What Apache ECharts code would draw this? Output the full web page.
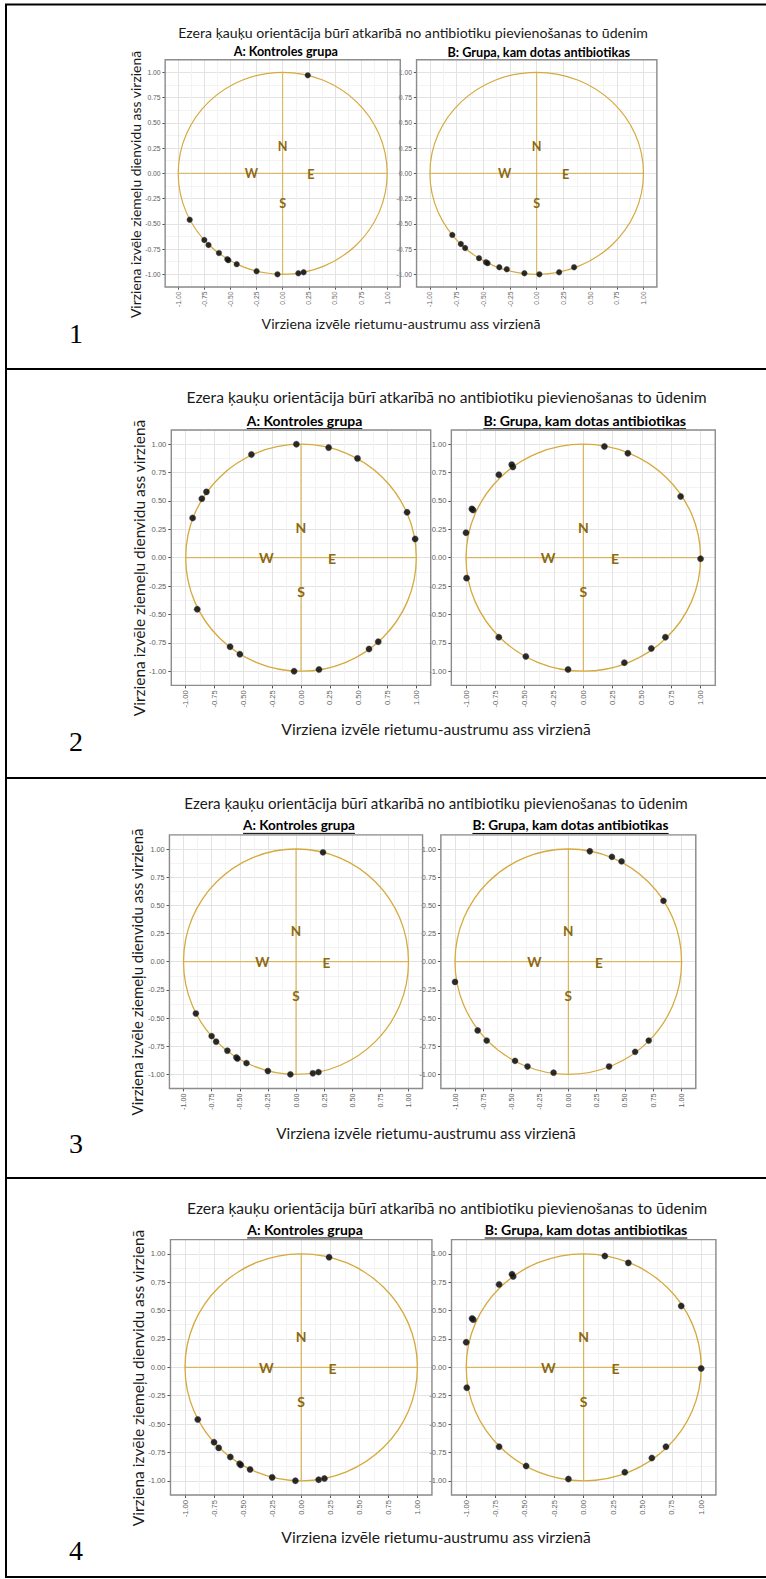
<!DOCTYPE html>
<html><head><meta charset="utf-8">
<script src="https://cdn.jsdelivr.net/npm/echarts@6/dist/echarts.min.js"></script>
<style>html,body{margin:0;padding:0;background:#fff}#c{width:766px;height:1579px}</style>
</head><body><div id="c"></div>
<script>
// ---------------- DATA ----------------
const titleText = 'Ezera ķauķu orientācija būrī atkarībā no antibiotiku pievienošanas to ūdenim';
const panelTitleA = 'A: Kontroles grupa';
const panelTitleB = 'B: Grupa, kam dotas antibiotikas';
const yAxisTitle = 'Virziena izvēle ziemeļu dienvidu ass virzienā';
const xAxisTitle = 'Virziena izvēle rietumu-austrumu ass virzienā';
const rowNumbers = ['1', '2', '3', '4'];
const tickValues = [-1, -0.75, -0.5, -0.25, 0, 0.25, 0.5, 0.75, 1];
const circleRadius = 1;
const compassLabels = ['N', 'S', 'W', 'E'];
const compassX = [0, 0, -0.30, 0.27];
const compassY = [0.27, -0.30, 0, -0.01];

// control group (rows 1, 3, 4)
const controlX = [0.24, -0.89, -0.75, -0.71, -0.61, -0.53, -0.52, -0.44, -0.25, -0.05, 0.15, 0.20];
const controlY = [0.97, -0.46, -0.66, -0.71, -0.79, -0.85, -0.86, -0.90, -0.97, -1.00, -0.99, -0.98];
// antibiotic group, row 1
const treat1X = [-0.79, -0.71, -0.67, -0.54, -0.475, -0.46, -0.35, -0.28, -0.115, 0.025, 0.21, 0.35];
const treat1Y = [-0.61, -0.70, -0.74, -0.84, -0.88, -0.89, -0.93, -0.95, -0.99, -1.00, -0.98, -0.93];
// control group, row 2
const control2X = [-0.04, 0.24, 0.49, -0.43, -0.82, -0.86, -0.94, 0.92, 0.99, -0.90, -0.615, -0.53, -0.06, 0.156, 0.59, 0.67];
const control2Y = [1.00, 0.97, 0.875, 0.91, 0.58, 0.52, 0.35, 0.40, 0.165, -0.455, -0.785, -0.85, -1.00, -0.985, -0.805, -0.74];
// antibiotic group, rows 2 and 4
const treat2X = [0.18, 0.38, 0.83, -0.72, -0.60, -0.61, -0.94, -0.95, -1.00, 1.00, -0.995, -0.72, -0.49, -0.13, 0.35, 0.58, 0.70];
const treat2Y = [0.98, 0.92, 0.54, 0.73, 0.80, 0.82, 0.42, 0.43, 0.22, -0.01, -0.18, -0.70, -0.87, -0.985, -0.925, -0.80, -0.70];
// antibiotic group, row 3
const treat3X = [0.19, 0.385, 0.47, 0.84, -1.00, -0.80, -0.72, -0.47, -0.36, -0.13, 0.36, 0.59, 0.71];
const treat3Y = [0.98, 0.93, 0.89, 0.54, -0.18, -0.61, -0.70, -0.88, -0.93, -0.985, -0.93, -0.80, -0.70];

const rowDataA = [[controlX, controlY], [control2X, control2Y], [controlX, controlY], [controlX, controlY]];
const rowDataB = [[treat1X, treat1Y], [treat2X, treat2Y], [treat3X, treat3Y], [treat2X, treat2Y]];

// ---------------- LAYOUT ----------------
const rows = [
  {s: 0.902, A: {cx: 282.7, cy: 173.3, ux: 104.5, uy: 101}, B: {cx: 536.7, cy: 173.3, ux: 106.8, uy: 101},
   titleX: 413, titleY: 32.3, subY: 51.7, subAX: 285.8, subBX: 538.8, xtX: 401, xtY: 323.3, ytX: 135, ytY: 184.5, numY: 333},
  {s: 1, A: {cx: 301, cy: 557.7, ux: 115.3, uy: 113.5}, B: {cx: 583.3, cy: 557.7, ux: 117.3, uy: 113.5},
   titleX: 446.5, titleY: 396.7, subY: 420, subAX: 304.5, subBX: 584.7, xtX: 436, xtY: 729, ytX: 139, ytY: 568, numY: 741},
  {s: 0.968, A: {cx: 296, cy: 961.7, ux: 112.5, uy: 112.7}, B: {cx: 568.3, cy: 961.7, ux: 113.3, uy: 112.7},
   titleX: 436, titleY: 803.3, subY: 825, subAX: 299, subBX: 570.5, xtX: 426, xtY: 1133, ytX: 136.7, ytY: 972, numY: 1143},
  {s: 1, A: {cx: 301.2, cy: 1367.3, ux: 116.2, uy: 113.5}, B: {cx: 583.7, cy: 1367.3, ux: 117.5, uy: 113.5},
   titleX: 447, titleY: 1208.3, subY: 1229.3, subAX: 305, subBX: 586, xtX: 436, xtY: 1537, ytX: 138, ytY: 1378, numY: 1550}
];
const base = {title: 521, subA: 115.6, subB: 202.7, yt: 297, xt: 310, tick: 14.7};
const tableLinesY = [4.5, 369, 778, 1178, 1577];

const GOLD = '#D6A93C';
const COMPASS = '#8B6914';
const TEXT_FONT = 'Lato, "Open Sans", sans-serif';
const TICK_FONT = '"Liberation Sans Narrow", "Liberation Sans", sans-serif';

const mctx = document.createElement('canvas').getContext('2d');
function fitSize(text, family, weight, target) {
  mctx.font = weight + ' 100px ' + family;
  return 100 * target / mctx.measureText(text).width;
}

const grids = [], xAxes = [], yAxes = [], series = [], graphics = [];
const lim = 1.125;

function tickFmt(v) {
  const q = v * 4;
  if (Math.abs(q - Math.round(q)) < 1e-6 && Math.abs(v) <= 1.0001) return (Math.abs(v) < 1e-9 ? 0 : v).toFixed(2);
  return '';
}

function addPanel(p, s, xs, ys) {
  const gi = grids.length;
  grids.push({left: p.cx - lim * p.ux, top: p.cy - lim * p.uy, width: 2 * lim * p.ux, height: 2 * lim * p.uy,
    show: false, containLabel: false, outerBoundsMode: 'none'});
  const tickFs = fitSize('1.00', TICK_FONT, 'normal', base.tick * s);
  const commonMain = {gridIndex: gi, type: 'value', min: -lim, max: lim, interval: 0.125,
    axisLine: {show: false, onZero: false}, axisTick: {show: false},
    splitLine: {show: true, showMinLine: true, showMaxLine: true, lineStyle: {color: ['#f3f3f3', '#e3e3e3'], width: 1}},
    axisLabel: {formatter: tickFmt, fontSize: tickFs, fontFamily: TICK_FONT, color: '#5e5e5e', margin: 5 * s}};
  const commonTick = {gridIndex: gi, type: 'value', min: -lim, max: lim,
    axisLine: {show: false, onZero: false}, axisLabel: {show: false}, splitLine: {show: false},
    axisTick: {show: true, customValues: tickValues, length: 3 * s, lineStyle: {color: '#555', width: 1}}};
  xAxes.push(Object.assign({}, commonMain, {position: 'bottom', axisLabel: Object.assign({}, commonMain.axisLabel, {rotate: 90})}));
  xAxes.push(Object.assign({}, commonTick, {position: 'bottom'}));
  yAxes.push(Object.assign({}, commonMain, {position: 'left'}));
  yAxes.push(Object.assign({}, commonTick, {position: 'left'}));
  const xi = 2 * gi;
  // circle + crosshair
  series.push({type: 'custom', xAxisIndex: xi, yAxisIndex: xi, silent: true, z: 2, data: [[0, 0]],
    renderItem: function (params, api) {
      const c = api.coord([api.value(0), api.value(1)]);
      const sz = api.size([circleRadius, circleRadius]);
      const l = api.coord([-circleRadius, 0]), r = api.coord([circleRadius, 0]);
      const t = api.coord([0, circleRadius]), b = api.coord([0, -circleRadius]);
      const st = {fill: 'none', stroke: GOLD, lineWidth: 1.3 * s};
      return {type: 'group', children: [
        {type: 'line', shape: {x1: l[0], y1: l[1], x2: r[0], y2: r[1]}, style: {stroke: GOLD, lineWidth: 1 * s}},
        {type: 'line', shape: {x1: t[0], y1: t[1], x2: b[0], y2: b[1]}, style: {stroke: GOLD, lineWidth: 1 * s}},
        {type: 'ellipse', shape: {cx: c[0], cy: c[1], rx: sz[0], ry: sz[1]}, style: st}
      ]};
    }});
  // compass letters
  series.push({type: 'custom', xAxisIndex: xi, yAxisIndex: xi, silent: true, z: 3,
    data: compassX.map((x, i) => [x, compassY[i]]),
    renderItem: function (params, api) {
      const p2 = api.coord([api.value(0), api.value(1)]);
      return {type: 'text', x: p2[0], y: p2[1], style: {text: compassLabels[params.dataIndex], fill: COMPASS,
        fontSize: 14 * s, fontWeight: 'bold', fontFamily: TEXT_FONT, align: 'center', verticalAlign: 'middle'}};
    }});
  // points
  series.push({type: 'scatter', xAxisIndex: xi, yAxisIndex: xi, z: 4, symbolSize: 6.4 * s, silent: true,
    itemStyle: {color: '#141414', opacity: 0.9, borderColor: 'rgba(90,90,90,0.6)', borderWidth: 0.6},
    data: xs.map((x, i) => [x, ys[i]])});
  // panel border
  series.push({type: 'custom', xAxisIndex: xi, yAxisIndex: xi, silent: true, z: 5, data: [[-lim, lim]],
    renderItem: function (params, api) {
      const tl = api.coord([api.value(0), api.value(1)]);
      const sz = api.size([2 * lim, 2 * lim]);
      return {type: 'rect', shape: {x: tl[0], y: tl[1], width: sz[0], height: sz[1]},
        style: {fill: 'none', stroke: '#8c8c8c', lineWidth: 1.4}};
    }});
}

function addText(text, x, y, fs, opts) {
  opts = opts || {};
  graphics.push({type: 'text', x: x, y: y, rotation: opts.rotation || 0, silent: true,
    style: {text: text, fontSize: fs, fontFamily: opts.family || TEXT_FONT, fontWeight: opts.weight || 'normal',
      fill: opts.fill || '#1a1a1a', align: 'center', verticalAlign: 'middle', textAlign: 'center', textVerticalAlign: 'middle'}});
}

rows.forEach((r, ri) => {
  const s = r.s;
  addPanel(r.A, s, rowDataA[ri][0], rowDataA[ri][1]);
  addPanel(r.B, s, rowDataB[ri][0], rowDataB[ri][1]);
  addText(titleText, r.titleX, r.titleY, fitSize(titleText, TEXT_FONT, 'normal', base.title * s));
  const fsA = fitSize(panelTitleA, TEXT_FONT, 'bold', base.subA * s);
  const fsB = fitSize(panelTitleB, TEXT_FONT, 'bold', base.subB * s);
  addText(panelTitleA, r.subAX, r.subY, fsA, {weight: 'bold', fill: '#000'});
  addText(panelTitleB, r.subBX, r.subY, fsB, {weight: 'bold', fill: '#000'});
  [[r.subAX, base.subA * s, fsA], [r.subBX, base.subB * s, fsB]].forEach(u => {
    const yy = r.subY + u[2] * 0.62;
    graphics.push({type: 'line', silent: true, shape: {x1: u[0] - u[1] / 2, y1: yy, x2: u[0] + u[1] / 2, y2: yy},
      style: {stroke: '#000', lineWidth: 1}});
  });
  addText(xAxisTitle, r.xtX, r.xtY, fitSize(xAxisTitle, TEXT_FONT, 'normal', base.xt * s));
  addText(yAxisTitle, r.ytX, r.ytY, fitSize(yAxisTitle, TEXT_FONT, 'normal', base.yt * s), {rotation: Math.PI / 2});
  addText(rowNumbers[ri], 76, r.numY, 28, {family: '"Liberation Serif", "Times New Roman", serif', fill: '#000'});
});

// table borders
tableLinesY.forEach(y => {
  graphics.push({type: 'line', silent: true, shape: {x1: 5, y1: y, x2: 766, y2: y}, style: {stroke: '#000', lineWidth: 2}});
});
graphics.push({type: 'line', silent: true, shape: {x1: 6, y1: tableLinesY[0], x2: 6, y2: tableLinesY[tableLinesY.length - 1]},
  style: {stroke: '#000', lineWidth: 2}});

const chart = echarts.init(document.getElementById('c'), null, {renderer: 'svg', width: 766, height: 1579});
chart.setOption({
  animation: false,
  backgroundColor: '#fff',
  grid: grids,
  xAxis: xAxes,
  yAxis: yAxes,
  series: series,
  graphic: graphics
});
</script>
</body></html>
